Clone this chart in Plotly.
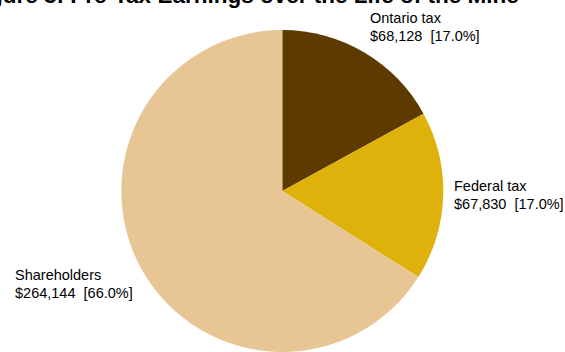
import plotly.graph_objects as go

# Pre-tax earnings split over the life of the mine
categories = ["Ontario tax", "Federal tax", "Shareholders"]
earnings = [68128, 67830, 264144]
slice_colors = ["#5C3A00", "#DFB20B", "#E8C595"]

total = sum(earnings)
shares = [v / total * 100 for v in earnings]

W, H = 565, 352
FONT = "Liberation Sans, Arial, sans-serif"

fig = go.Figure(
    go.Pie(
        labels=categories,
        values=earnings,
        sort=False,
        direction="clockwise",
        rotation=0,
        textinfo="none",
        hoverinfo="label+value+percent",
        marker=dict(colors=slice_colors, line=dict(width=0)),
        domain=dict(x=[121.3 / W, 443.3 / W], y=[0, 322 / H]),
        showlegend=False,
    )
)

# label anchor points (left edge, first-line centre) in pixels from top-left
label_pos = {
    "Ontario tax": (367.5, 18),
    "Federal tax": (452, 185.5),
    "Shareholders": (12.5, 275),
}
line_gap = 18.4

annotations = []
for name, val, pct in zip(categories, earnings, shares):
    x0, y0 = label_pos[name]
    lines = [name, f"${val:,}\u00a0 [{pct:.1f}%]"]
    for i, txt in enumerate(lines):
        annotations.append(
            dict(
                text=txt,
                x=x0 / W,
                y=1 - (y0 + i * line_gap) / H,
                xref="paper",
                yref="paper",
                xanchor="left",
                yanchor="middle",
                showarrow=False,
                font=dict(family=FONT, size=14.5, color="#000000"),
            )
        )

# chart title, sitting mostly above the top edge
annotations.append(
    dict(
        text="<b>Figure 3: Pre-Tax Earnings over the Life of the Mine</b>",
        x=244.5 / W,
        y=1 - 9.7 / H,
        xref="paper",
        yref="paper",
        xanchor="center",
        yanchor="bottom",
        showarrow=False,
        font=dict(family=FONT, size=22.5, color="#000000"),
    )
)

fig.update_layout(
    width=W,
    height=H,
    margin=dict(l=0, r=0, t=0, b=0),
    paper_bgcolor="#FFFFFF",
    plot_bgcolor="#FFFFFF",
    annotations=annotations,
)

fig.write_html("out.html")
